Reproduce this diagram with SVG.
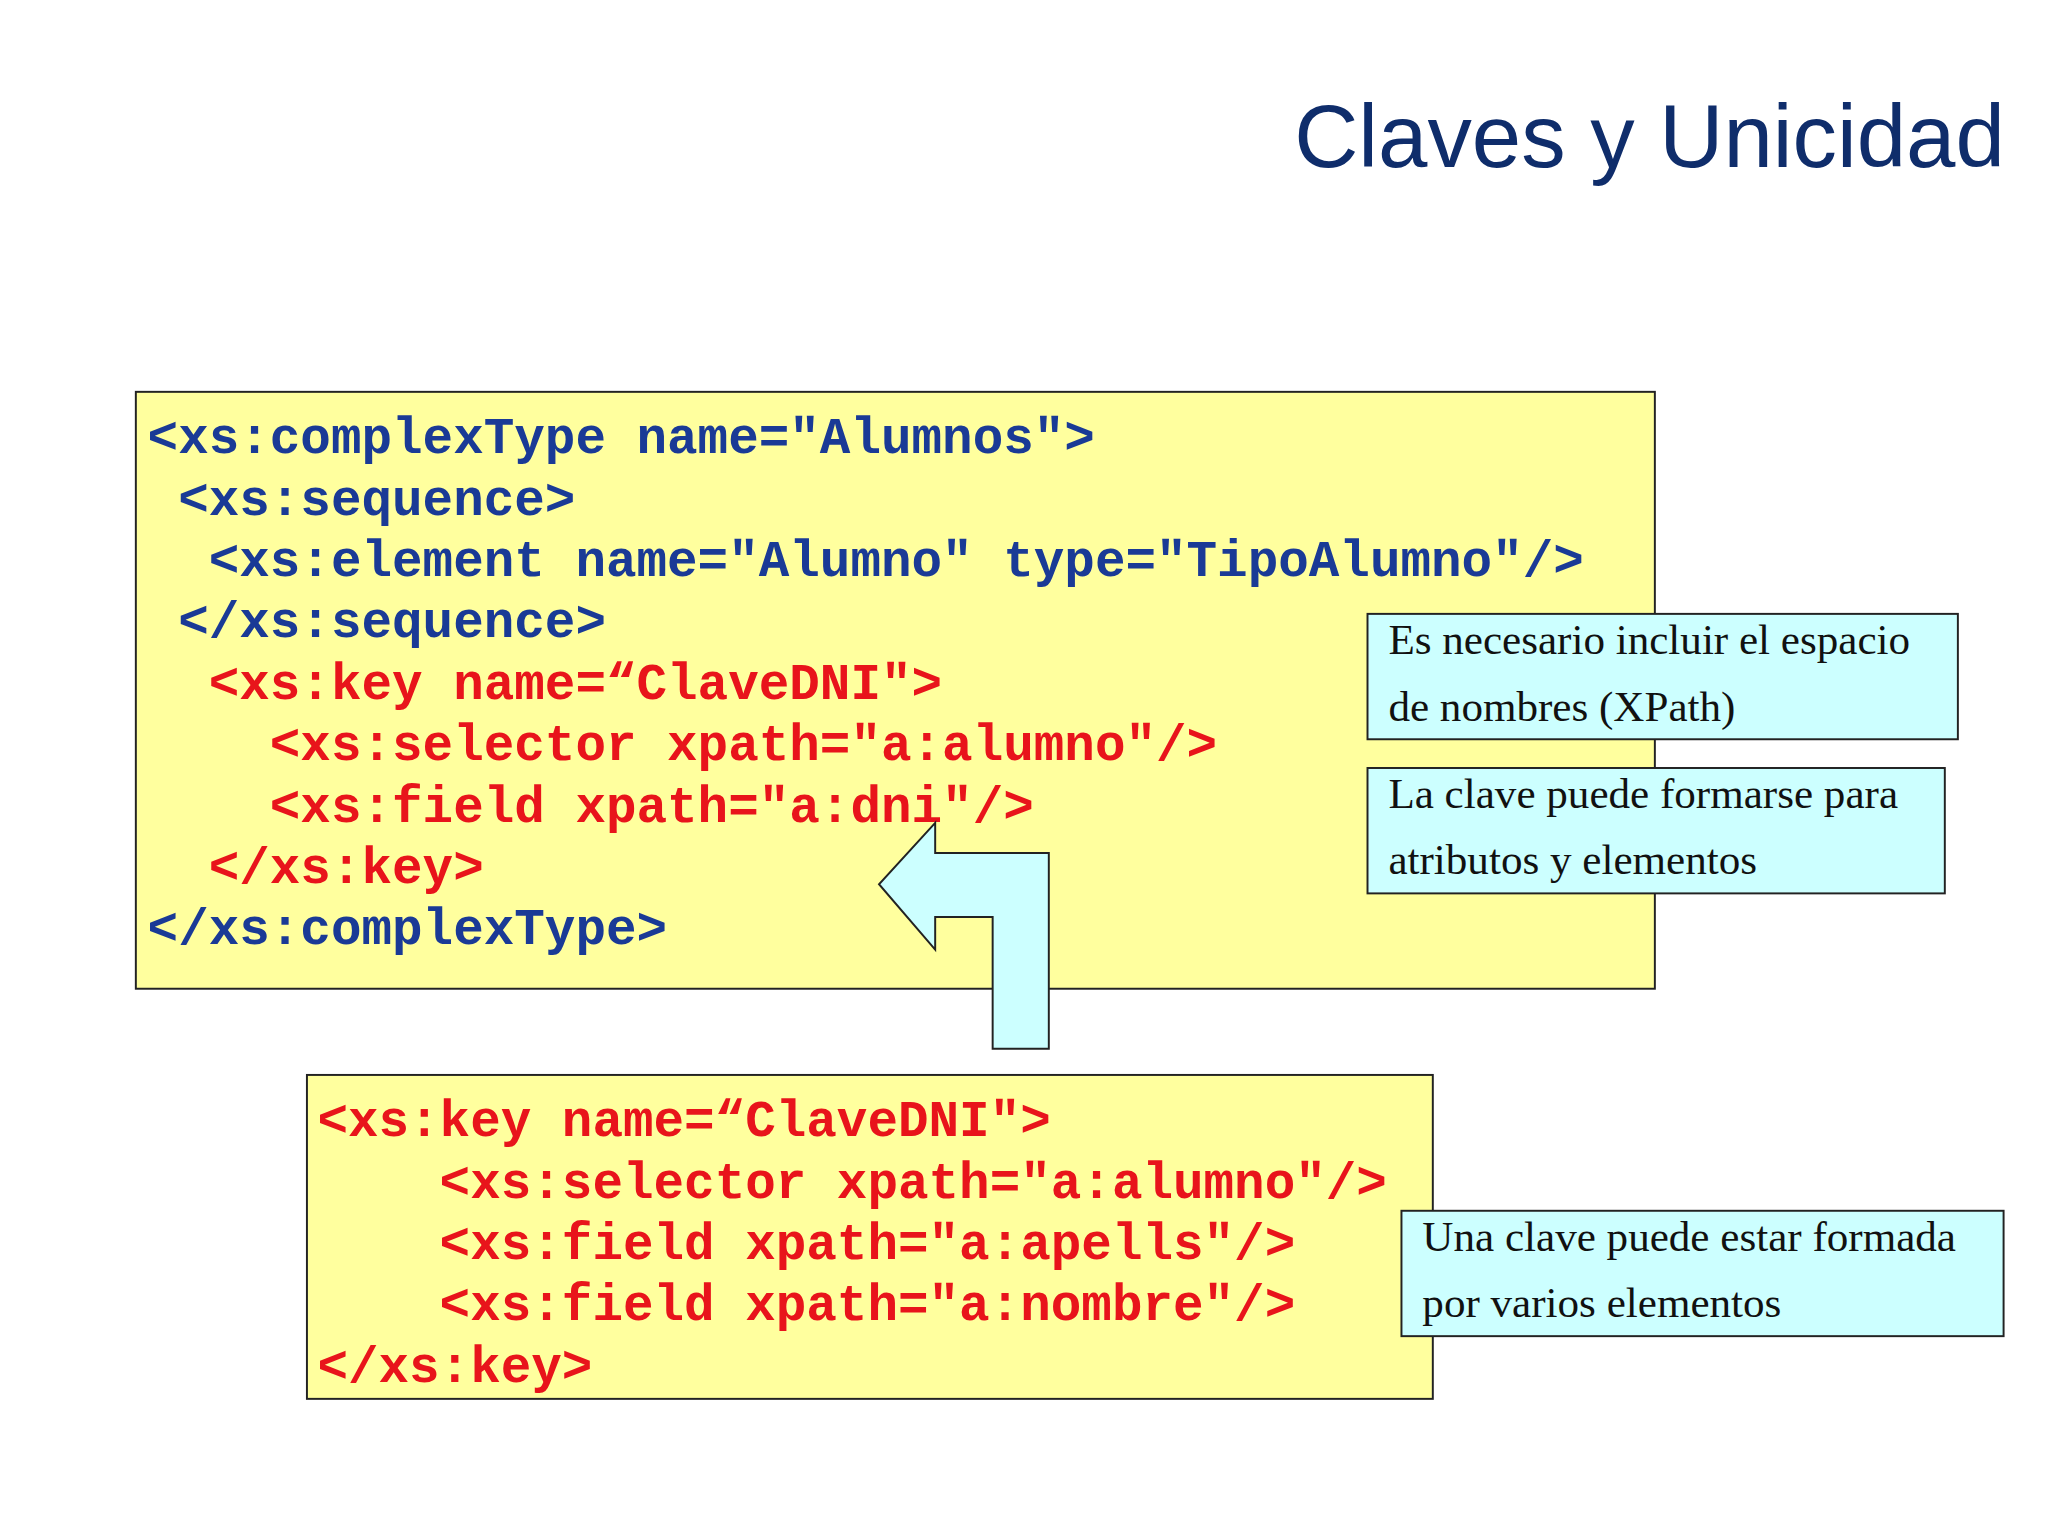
<svg xmlns="http://www.w3.org/2000/svg" width="2048" height="1536" viewBox="0 0 2048 1536">
<style>
.code{font-family:"Liberation Mono","Courier New",monospace;font-weight:bold;font-size:39px;white-space:pre}
.b{fill:#1a3a96}.r{fill:#e8141b}
.box{fill:#ffff9e;stroke:#222;stroke-width:1.5}
.note{fill:#ccffff;stroke:#222;stroke-width:1.5}
.nt{font-family:"Liberation Serif","Times New Roman",serif;font-size:33px;fill:#111}
</style>
<rect width="2048" height="1536" fill="#fff"/>
<g transform="scale(1.30612)">
<text x="1535" y="128" text-anchor="end" font-family="Liberation Sans,Arial,sans-serif" font-size="68" fill="#0f2d6b">Claves y Unicidad</text>
<g id="schema">
<rect class="box" x="104" y="300" width="1163" height="457"/>
<text class="code b" x="113" y="347" xml:space="preserve">&lt;xs:complexType name="Alumnos"&gt;</text>
<text class="code b" x="113" y="394" xml:space="preserve"> &lt;xs:sequence&gt;</text>
<text class="code b" x="113" y="441" xml:space="preserve">  &lt;xs:element name="Alumno" type="TipoAlumno"/&gt;</text>
<text class="code b" x="113" y="488" xml:space="preserve"> &lt;/xs:sequence&gt;</text>
<text class="code r" x="113" y="535" xml:space="preserve">  &lt;xs:key name=“ClaveDNI"&gt;</text>
<text class="code r" x="113" y="582" xml:space="preserve">    &lt;xs:selector xpath="a:alumno"/&gt;</text>
<text class="code r" x="113" y="629" xml:space="preserve">    &lt;xs:field xpath="a:dni"/&gt;</text>
<text class="code r" x="113" y="676" xml:space="preserve">  &lt;/xs:key&gt;</text>
<text class="code b" x="113" y="723" xml:space="preserve">&lt;/xs:complexType&gt;</text>
</g>
<g id="key2">
<rect class="box" x="235" y="823" width="862" height="248"/>
<text class="code r" x="243" y="870" xml:space="preserve">&lt;xs:key name=“ClaveDNI"&gt;</text>
<text class="code r" x="243" y="917" xml:space="preserve">    &lt;xs:selector xpath="a:alumno"/&gt;</text>
<text class="code r" x="243" y="964" xml:space="preserve">    &lt;xs:field xpath="a:apells"/&gt;</text>
<text class="code r" x="243" y="1011" xml:space="preserve">    &lt;xs:field xpath="a:nombre"/&gt;</text>
<text class="code r" x="243" y="1058" xml:space="preserve">&lt;/xs:key&gt;</text>
</g>
<g id="connectors">
<polygon class="note" points="716,630 673,677 716,727 716,702 760,702 760,803 803,803 803,653 716,653"/>
</g>
<g id="note1">
<rect class="note" x="1047" y="470" width="452" height="96"/>
<text class="nt" x="1063" y="501">Es necesario incluir el espacio</text>
<text class="nt" x="1063" y="552">de nombres (XPath)</text>
</g>
<g id="note2">
<rect class="note" x="1047" y="588" width="442" height="96"/>
<text class="nt" x="1063" y="619">La clave puede formarse para</text>
<text class="nt" x="1063" y="669">atributos y elementos</text>
</g>
<g id="note3">
<rect class="note" x="1073" y="927" width="461" height="96"/>
<text class="nt" x="1089" y="958">Una clave puede estar formada</text>
<text class="nt" x="1089" y="1008">por varios elementos</text>
</g>
</g>
</svg>
